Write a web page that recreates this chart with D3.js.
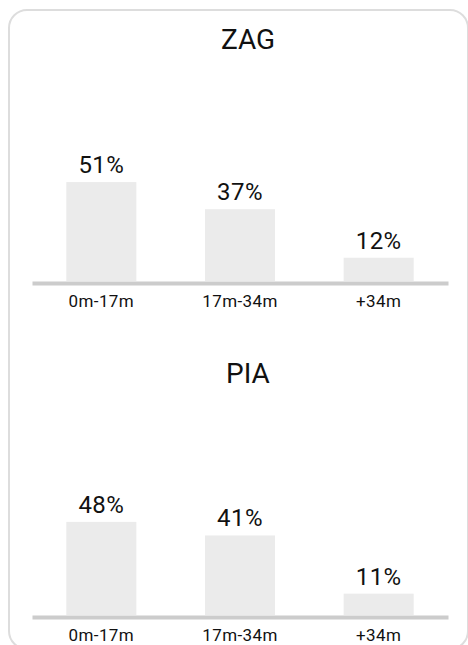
<!DOCTYPE html>
<html>
<head>
<meta charset="utf-8">
<script src="https://cdn.jsdelivr.net/npm/d3@7"></script>
<style>
  body { margin: 0; background: #fff; }
  svg { display: block; font-family: Roboto, "Noto Sans", sans-serif; }
</style>
</head>
<body>
<svg width="468" height="645"></svg>
<script>
// categories and values per panel
const categories = ["0m-17m", "17m-34m", "+34m"]
const titles = ["ZAG", "PIA"]
const zagValues = [51, 37, 12]
const piaValues = [48, 41, 11]

const svg = d3.select("svg")

// card outline
svg.append("rect")
  .attr("x", 9)
  .attr("y", 10)
  .attr("width", 459)
  .attr("height", 639)
  .attr("rx", 18)
  .attr("fill", "#fff")
  .attr("stroke", "#dddddd")
  .attr("stroke-width", 2)

const x = d3.scaleBand()
  .domain(categories)
  .range([32, 448])
  .paddingInner(0.495)
  .paddingOuter(0.2475)

// shared y scale, 1.94px per percent
const y = d3.scaleLinear().domain([0, 100]).range([0, 194])

const panels = [
  { title: titles[0], values: zagValues, top: 0 },
  { title: titles[1], values: piaValues, top: 334 },
]

panels.forEach((p) => {
  const g = svg.append("g").attr("transform", "translate(0," + p.top + ")")
  const base = 281
  const data = categories.map((c, i) => ({ cat: c, v: p.values[i] }))

  g.append("text")
    .attr("x", 248)
    .attr("y", 49)
    .attr("text-anchor", "middle")
    .attr("font-size", 28)
    .attr("fill", "#111")
    .text(p.title)

  g.selectAll(".bar")
    .data(data)
    .enter()
    .append("rect")
    .attr("class", "bar")
    .attr("x", (d) => x(d.cat))
    .attr("y", (d) => base - y(d.v))
    .attr("width", x.bandwidth())
    .attr("height", (d) => y(d.v))
    .attr("fill", "#ebebeb")

  g.selectAll(".val")
    .data(data)
    .enter()
    .append("text")
    .attr("class", "val")
    .attr("x", (d) => x(d.cat) + x.bandwidth() / 2)
    .attr("y", (d) => base - y(d.v) - 9)
    .attr("text-anchor", "middle")
    .attr("font-size", 24)
    .attr("letter-spacing", 0.4)
    .attr("fill", "#111")
    .text((d) => d.v + "%")

  const axis = g.append("g")
    .attr("transform", "translate(0," + (base + 2) + ")")
    .call(d3.axisBottom(x).tickSize(0).tickPadding(12))
  axis.select(".domain").attr("stroke", "#cccccc").attr("stroke-width", 4)
  axis.selectAll("text")
    .attr("font-family", "Roboto, sans-serif")
    .attr("font-size", 17)
    .attr("letter-spacing", 0.4)
    .attr("fill", "#111")
})
</script>
</body>
</html>
